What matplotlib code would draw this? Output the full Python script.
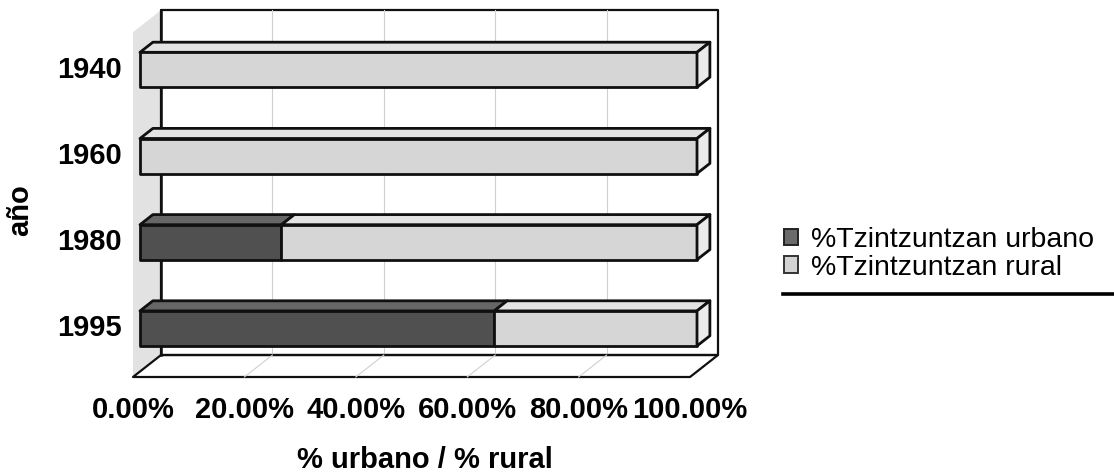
import matplotlib
matplotlib.use("Agg")
import matplotlib.pyplot as plt
from matplotlib.patches import Polygon, Patch
from matplotlib.lines import Line2D

# ---- data -------------------------------------------------------------
years = ["1940", "1960", "1980", "1995"]
urbano = [0.0, 0.0, 25.4, 63.6]      # % Tzintzuntzan urbano
rural = [100.0, 100.0, 74.6, 36.4]   # % Tzintzuntzan rural
x_ticks = [0, 20, 40, 60, 80, 100]
x_tick_labels = ["0.00%", "20.00%", "40.00%", "60.00%", "80.00%", "100.00%"]
series_names = ["%Tzintzuntzan urbano", "%Tzintzuntzan rural"]
x_title = "% urbano / % rural"
y_title = "año"

# ---- styling ----------------------------------------------------------
FAM = ["Liberation Sans", "DejaVu Sans"]
BOLD = dict(family=FAM, weight="bold", size=21)

C_URB = ("#505050", "#666666")            # front, top
C_RUR = ("#d6d6d6", "#e3e3e3", "#ebebeb")  # front, top, end cap
C_WALL = "#e2e2e2"
C_GRID = "#d0d0d0"
EDGE = "#101010"

# oblique projection of the depth axis (in data units)
DX, DY = 5.03, -0.255
Z_FRONT, Z_BACK = 0.25, 0.71   # bar slab between these depths
HALF_H = 0.203                 # half bar thickness (category units)
Y_TOP, Y_BOT = -0.5, 3.5       # wall extent in category units

W, H = 1114, 476
fig = plt.figure(figsize=(W / 100, H / 100), dpi=100)
ax = fig.add_axes([0, 0, 1, 1])
ax.set_xlim(-133 / 5.57, (W - 133) / 5.57)
ax.set_ylim((H - 75.3) / 86.2, -75.3 / 86.2)
ax.axis("off")


def P(x, y, z):
    """Project a point (value, category, depth) onto the drawing plane."""
    return (x + z * DX, y + z * DY)


def poly(pts, fc, ec=EDGE, lw=2.0, zorder=2):
    ax.add_patch(Polygon(pts, closed=True, facecolor=fc, edgecolor=ec,
                         linewidth=lw, joinstyle="round", zorder=zorder))


# ---- walls and floor --------------------------------------------------
poly([P(0, Y_TOP, 0), P(0, Y_TOP, 1), P(0, Y_BOT, 1), P(0, Y_BOT, 0)],
     C_WALL, ec="none", zorder=1)
poly([P(0, Y_TOP, 1), P(100, Y_TOP, 1), P(100, Y_BOT, 1), P(0, Y_BOT, 1)],
     "white", lw=1.6, zorder=1)
for v in x_ticks[1:-1]:
    ax.plot(*zip(P(v, Y_TOP, 1), P(v, Y_BOT, 1)), color=C_GRID, lw=0.8, zorder=1.1)
    ax.plot(*zip(P(v, Y_BOT, 1), P(v, Y_BOT, 0)), color=C_GRID, lw=0.8, zorder=1.6)
poly([P(0, Y_BOT, 0), P(100, Y_BOT, 0), P(100, Y_BOT, 1), P(0, Y_BOT, 1)],
     "none", lw=1.6, zorder=1.5)
ax.plot(*zip(P(0, Y_BOT, 1), P(0, Y_TOP, 1)), color=EDGE, lw=1.8, zorder=1.7)

# ---- stacked 3-D bars ------------------------------------------------
for i, (u, r) in enumerate(zip(urbano, rural)):
    y0, y1 = i - HALF_H, i + HALF_H
    segs = [(0.0, u, C_URB), (u, u + r, C_RUR)]
    for a, b, col in segs:
        if b - a <= 0:
            continue
        # top face
        poly([P(a, y0, Z_FRONT), P(b, y0, Z_FRONT), P(b, y0, Z_BACK), P(a, y0, Z_BACK)],
             col[1], zorder=3)
        # front face
        poly([P(a, y0, Z_FRONT), P(b, y0, Z_FRONT), P(b, y1, Z_FRONT), P(a, y1, Z_FRONT)],
             col[0], zorder=3)
    end = u + r
    poly([P(end, y0, Z_FRONT), P(end, y0, Z_BACK), P(end, y1, Z_BACK), P(end, y1, Z_FRONT)],
         C_RUR[2], zorder=3)

# ---- labels -----------------------------------------------------------
for i, yr in enumerate(years):
    ax.text(-2.0, i + Z_FRONT * DY, yr, ha="right", va="center", **BOLD)
for v, lab in zip(x_ticks, x_tick_labels):
    ax.text(v, Y_BOT + 0.38, lab, ha="center", va="center", **BOLD)

fig.text(425 / W, 1 - 460 / H, x_title, ha="center", va="center", **BOLD)
fig.text(20 / W, 1 - 210 / H, y_title, ha="center", va="center", rotation=90, **BOLD)

# ---- legend -----------------------------------------------------------
handles = [Patch(facecolor="#6a6a6a", edgecolor="#222222", linewidth=1.4),
           Patch(facecolor="#d3d3d3", edgecolor="#333333", linewidth=1.4)]
leg = fig.legend(handles, series_names, loc="center left",
                 bbox_to_anchor=(784 / W, 1 - 254 / H), frameon=False,
                 prop=dict(family=FAM, size=20.5),
                 handlelength=0.5, handleheight=0.5, handletextpad=0.45,
                 labelspacing=0.05, borderpad=0, borderaxespad=0)
fig.add_artist(Line2D([783 / W, 1.0], [1 - 294 / H] * 2, color="black", lw=2.6))

fig.savefig("out.png", dpi=100)
